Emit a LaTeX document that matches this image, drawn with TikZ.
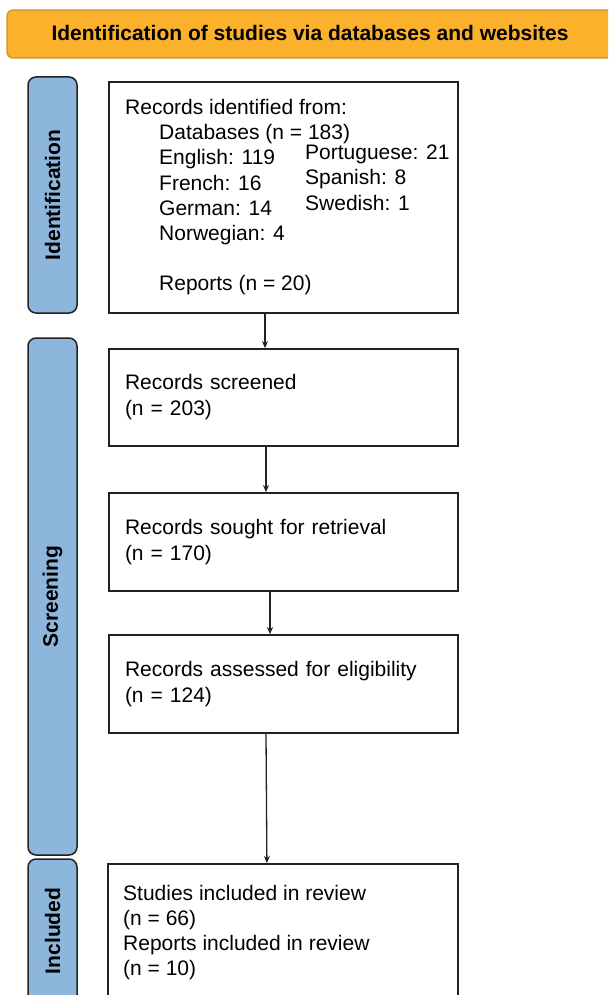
\documentclass[tikz,border=0pt]{standalone}
\usepackage{fontspec}
\setmainfont{Liberation Sans}
\usetikzlibrary{arrows.meta}
\definecolor{hdrfill}{HTML}{FBB12C}
\definecolor{hdrdraw}{HTML}{C8962E}
\definecolor{sidefill}{HTML}{8DB6DD}
\definecolor{boxdraw}{HTML}{222222}
\tikzset{
  hdr/.style={draw=hdrdraw, fill=hdrfill, line width=1.2pt, rounded corners=6pt},
  side/.style={draw=boxdraw, fill=sidefill, line width=1.5pt, rounded corners=8pt},
  sidelabel/.style={rotate=90, font=\fontsize{21}{25}\selectfont\bfseries, inner sep=0pt},
  mainbox/.style={draw=boxdraw, line width=1.8pt, fill=white, inner sep=0pt},
  txtbox/.style={mainbox, align=left, inner xsep=16pt, inner ysep=0pt,
     text width=317pt, font=\fontsize{21}{26}\selectfont},
  txt/.style={anchor=base west, inner sep=0pt, font=\fontsize{21}{25}\selectfont},
  arr/.style={line width=1.3pt, draw=boxdraw, -{Stealth[length=7pt,width=6pt]}}
}
\begin{document}
\begin{tikzpicture}[x=1pt,y=-1pt]
\useasboundingbox (0,0) rectangle (608,995);
\clip (0,0) rectangle (608,995);
\fill[white] (0,0) rectangle (608,995);
% header
\draw[hdr] (7,10) rectangle (630,58);
\node[inner sep=0pt, anchor=base, font=\fontsize{21}{25}\selectfont\bfseries] (hdrtxt) at (310,41)
  {Identification of studies via databases and websites};
% side bars
\draw[side] (28,77) rectangle (77,313);
\node[sidelabel] (lid) at (52.5,195) {Identification};
\draw[side] (28,338) rectangle (77,855);
\node[sidelabel] (lscr) at (52.5,596.5) {Screening};
\draw[side] (28,859) rectangle (77,1004);
\node[sidelabel] (linc) at (52.5,931) {Included};
% box 1
\node[mainbox, minimum width=349pt, minimum height=231pt] (box1) at (283.5,197.5) {};
\node[txt] (t1) at (125,115) {Records identified from:};
\node[txt] (t2) at (159,140) {Databases (n = 183)};
\node[txt] (t3) at (159,165) {English: 119};
\node[txt] (t4) at (159,190) {French: 16};
\node[txt] (t5) at (159,215) {German: 14};
\node[txt] (t6) at (159,240) {Norwegian: 4};
\node[txt] (t7) at (159,290) {Reports (n = 20)};
\node[txt] (t8) at (305,160) {Portuguese: 21};
\node[txt] (t9) at (305,185) {Spanish: 8};
\node[txt] (t10) at (305,210) {Swedish: 1};
% boxes 2-4
\node[txtbox, minimum height=97pt] (box2) at (283.5,397.5) {Records screened\\(n = 203)};
\node[txtbox, minimum height=98pt] (box3) at (283.5,542) {Records sought for retrieval\\(n = 170)};
\node[txtbox, minimum height=98pt] (box4) at (283.5,684) {Records assessed for eligibility\\(n = 124)};
% box 5
\node[mainbox, minimum width=350pt, minimum height=160pt, anchor=north west] (box5) at (107,863) {};
\node[txt, align=left] (t11) at (123,975) {Studies included in review\\(n = 66)\\Reports included in review\\(n = 10)};
% arrows
\draw[arr] ([xshift=-18.5pt]box1.south) -- ([xshift=-18.5pt]box2.north);
\draw[arr] ([xshift=-17.5pt]box2.south) -- ([xshift=-17.5pt]box3.north);
\draw[arr] ([xshift=-13.5pt]box3.south) -- ([xshift=-13.5pt]box4.north);
\draw[arr] ([xshift=-17.5pt]box4.south) -- ([xshift=-16pt]box5.north);
\end{tikzpicture}
\end{document}
